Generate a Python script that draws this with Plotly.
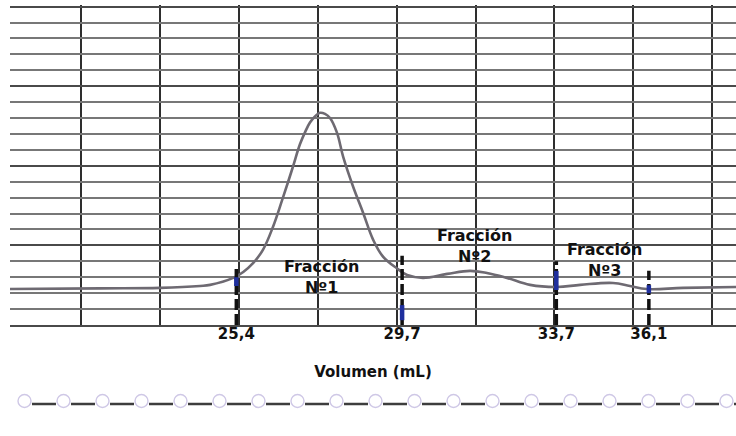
import plotly.graph_objects as go

# ---- data ----
volume_ml = [19.53, 21.87, 23.42, 24.46, 24.72, 25.32, 25.58, 25.84, 26.09, 26.35,
             26.59, 26.85, 27.05, 27.18, 27.31, 27.44, 27.57, 27.70, 27.83, 28.01,
             28.17, 28.43, 28.69, 28.95, 29.21, 29.57, 29.83, 30.24, 30.87, 31.46,
             31.90, 32.42, 33.02, 33.72, 34.32, 35.17, 35.61, 36.05, 36.99, 38.36]
signal = [2.26, 2.30, 2.33, 2.45, 2.52, 2.96, 3.33, 3.90, 4.72, 6.16,
          7.86, 9.80, 11.35, 12.10, 12.72, 13.10, 13.33, 13.26, 13.00, 12.08,
          10.57, 8.68, 7.04, 5.35, 4.28, 3.55, 3.14, 2.96, 3.21, 3.40,
          3.27, 2.96, 2.52, 2.39, 2.52, 2.64, 2.45, 2.26, 2.33, 2.39]

fraction_cuts = [25.4, 29.7, 33.7, 36.1]
fraction_tick_text = ["25,4", "29,7", "33,7", "36,1"]
fraction_names = ["Fracción<br>Nº1", "Fracción<br>Nº2", "Fracción<br>Nº3"]
x_title = "Volumen (mL)"

# ---- styling / placement ----
dash_tops = [3.7, 4.35, 4.0, 3.4]
blue_marks = [(2.45, 3.0), (0.3, 1.25), (2.2, 3.4), (2.0, 2.5)]
name_pos = [(27.62, 3.02), (31.59, 4.97), (34.94, 4.09)]

FONT = "DejaVu Sans"

fig = go.Figure()
fig.add_trace(go.Scatter(
    x=volume_ml, y=signal, mode="lines",
    line=dict(color="#6e6a72", width=2.6, shape="spline", smoothing=1.1),
    hoverinfo="skip", showlegend=False))

shapes = []
for xv, top in zip(fraction_cuts, dash_tops):
    shapes.append(dict(type="line", xref="x", yref="y", x0=xv, x1=xv, y0=0, y1=top,
                       line=dict(color="#111111", width=3.5, dash="11px,4px")))
for xv, (lo, hi) in zip(fraction_cuts, blue_marks):
    shapes.append(dict(type="line", xref="x", yref="y", x0=xv, x1=xv, y0=lo, y1=hi,
                       line=dict(color="#1f2f9e", width=4.5)))

# paper perforation along the bottom (decorative)
W, H_PLOT = 726.0, 320.0
PLOT_BOTTOM = 325
y_perf = (PLOT_BOTTOM - 404) / H_PLOT
shapes.append(dict(type="line", xref="paper", yref="paper",
                   x0=(32 - 10) / W, x1=1.0, y0=y_perf, y1=y_perf,
                   line=dict(color="#3d3d3d", width=2.5, dash="24px,15px")))
r = 6.5
k = 0
while True:
    cx = 24.5 + 39 * k
    if cx > 740:
        break
    shapes.append(dict(type="circle", xref="paper", yref="paper",
                       x0=(cx - r - 10) / W, x1=(cx + r - 10) / W,
                       y0=(PLOT_BOTTOM - 401 - r) / H_PLOT, y1=(PLOT_BOTTOM - 401 + r) / H_PLOT,
                       line=dict(color="#cfc8e6", width=1.4), fillcolor="white"))
    k += 1

annotations = []
for txt, (ax, ay) in zip(fraction_names, name_pos):
    annotations.append(dict(x=ax, y=ay, xref="x", yref="y", text=txt, showarrow=False,
                            xanchor="center", yanchor="middle",
                            font=dict(family=FONT, size=16, color="#111111", weight="bold")))

fig.update_layout(
    width=736, height=436,
    margin=dict(l=10, r=0, t=5, b=111),
    paper_bgcolor="white", plot_bgcolor="white",
    showlegend=False,
    shapes=shapes,
    annotations=annotations,
    xaxis=dict(
        range=[19.53, 38.36],
        tickmode="array", tickvals=fraction_cuts, ticktext=fraction_tick_text,
        ticks="", showgrid=False, zeroline=False,
        showline=True, linecolor="#4a4a4a", linewidth=2.4,
        ticklabelstandoff=-6,
        tickfont=dict(family=FONT, size=15, color="#111111", weight="bold"),
        title=dict(text=x_title, standoff=24,
                   font=dict(family=FONT, size=15, color="#111111", weight="bold")),
        minor=dict(tickmode="linear", tick0=21.38, dtick=2.045, showgrid=True,
                   gridcolor="#2e2e2e", gridwidth=2, ticks=""),
    ),
    yaxis=dict(
        range=[0, 20.1], showticklabels=False, ticks="", zeroline=False,
        tickmode="linear", tick0=0, dtick=5, showgrid=True,
        gridcolor="#4a4a4a", gridwidth=2.4,
        minor=dict(tickmode="linear", tick0=0, dtick=1, showgrid=True,
                   gridcolor="#777777", gridwidth=1.8, ticks=""),
    ),
)

fig.write_html("out.html")
